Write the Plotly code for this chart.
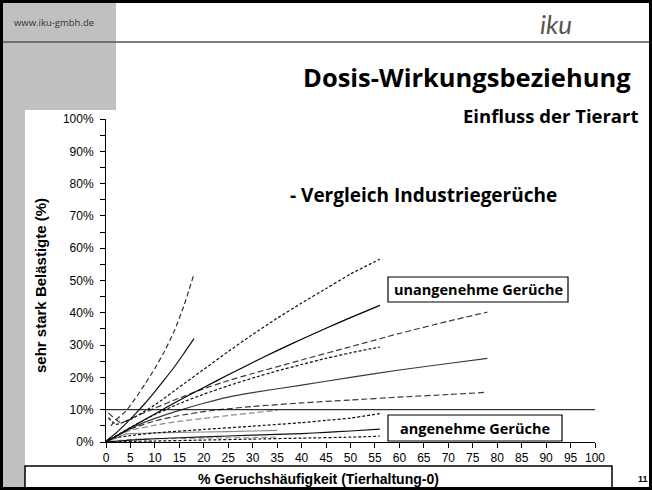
import plotly.graph_objects as go

# ---------------- data ----------------
xA = [0, 2, 4, 6, 8, 10, 12, 14, 16, 18]
A_solid = [0.3, 2.7, 5.6, 8.7, 12.0, 15.6, 19.4, 23.3, 27.6, 32.0]
xA_up = [1, 2, 4, 6, 8, 10, 12, 14, 16, 18]
A_upper = [5.0, 6.8, 9.5, 13.5, 18.0, 22.8, 28.2, 34.5, 42.5, 52.0]

xB = [0, 5, 10, 15, 20, 25, 30, 35, 40, 45, 50, 56]
B_solid = [0, 4.4, 8.7, 12.9, 16.9, 20.8, 24.6, 28.3, 31.8, 35.2, 38.5, 42.3]
B_lower = [0, 4.5, 8.5, 11.9, 14.8, 17.4, 19.8, 22.0, 24.0, 25.9, 27.6, 29.4]
xB_up = [0.5, 2, 5, 10, 15, 20, 25, 30, 35, 40, 45, 50, 56]
B_upper = [7.5, 5.5, 7.0, 11.5, 17.0, 22.5, 28.0, 33.3, 38.3, 43.0, 47.5, 52.0, 56.6]

xC = [0, 5, 10, 15, 20, 25, 30, 40, 50, 60, 70, 78]
C_solid = [0, 4.2, 7.3, 9.8, 12.0, 13.9, 15.3, 17.6, 20.0, 22.3, 24.3, 25.9]
C_lower = [0.3, 4.0, 6.5, 8.2, 9.4, 10.3, 11.0, 12.1, 13.0, 13.9, 14.7, 15.4]
xC_up = [0.5, 3, 5, 10, 15, 20, 25, 30, 40, 50, 60, 70, 78]
C_upper = [9.0, 6.0, 7.2, 10.5, 13.6, 16.5, 19.0, 21.2, 25.4, 29.5, 33.6, 37.4, 40.2]

xD = [0, 5, 10, 20, 30, 40, 45, 50, 56]
D_solid = [0, 0.6, 1.0, 1.6, 2.1, 2.6, 3.0, 3.4, 4.0]
xD_up = [0.5, 5, 10, 20, 30, 40, 45, 50, 56]
D_upper = [1.0, 2.0, 2.8, 3.9, 4.9, 6.0, 6.7, 7.4, 8.8]
xD_lo = [0.5, 10, 20, 30, 40, 50, 56]
D_lower = [0.1, 0.3, 0.6, 0.9, 1.2, 1.5, 1.8]

xE = [0.5, 2, 4, 5, 10, 20, 30, 35]
E_solid = [0.3, 1.2, 2.5, 2.6, 2.8, 3.1, 3.4, 3.6]
xE_up = [0.5, 3, 5, 10, 15, 20, 25, 30, 35]
E_upper = [0.5, 2.5, 3.6, 5.2, 6.4, 7.3, 8.2, 9.0, 9.8]
xE_lo = [0.5, 5, 10, 20, 30, 35]
E_lower = [0.1, 0.8, 1.0, 1.2, 1.4, 1.5]

x_ticks = list(range(0, 101, 5))
ref_level = 10

# ---------------- figure ----------------
W, H = 652, 490
L, R, T, B = 106, 57, 119, 48
PW, PH = W - L - R, H - T - B


def PX(px):
    return (px - L) / PW


def PY(py):
    return (H - B - py) / PH


fig = go.Figure()


def add(x, y, color, dash, width=1.2):
    fig.add_trace(go.Scatter(x=x, y=y, mode="lines",
                             line=dict(color=color, dash=dash, width=width, shape="spline", smoothing=0.6),
                             hoverinfo="skip", showlegend=False))


DOT = "3px,2px"
DASH = "6px,3px"
# group E (grey)
add(xE, E_solid, "#8a8a8a", "solid")
add(xE_up, E_upper, "#8a8a8a", DASH)
add(xE_lo, E_lower, "#9a9a9a", DASH)
# group D
add(xD, D_solid, "#111", "solid")
add(xD_up, D_upper, "#111", DOT)
add(xD_lo, D_lower, "#111", DOT)
# group C
add(xC, C_solid, "#3a3a3a", "solid")
add(xC_up, C_upper, "#3a3a3a", DASH)
add(xC, C_lower, "#3a3a3a", DASH)
# group B
add(xB, B_solid, "#000", "solid")
add(xB_up, B_upper, "#111", DOT)
add(xB, B_lower, "#111", DOT)
# group A
add(xA, A_solid, "#111", "solid")
add(xA_up, A_upper, "#333", "5px,3px")

shapes = []
# grey regions
shapes.append(dict(type="rect", xref="paper", yref="paper", x0=PX(3), x1=PX(116), y0=PY(110), y1=PY(3),
                   fillcolor="#c0c0c0", line=dict(width=0), layer="below"))
shapes.append(dict(type="rect", xref="paper", yref="paper", x0=PX(3), x1=PX(25), y0=PY(488), y1=PY(110),
                   fillcolor="#c0c0c0", line=dict(width=0), layer="below"))
# header line
shapes.append(dict(type="line", xref="paper", yref="paper", x0=PX(3), x1=PX(650), y0=PY(42), y1=PY(42),
                   line=dict(color="#555", width=1.5)))
# 10% reference line
shapes.append(dict(type="line", xref="x", yref="y", x0=0, x1=100, y0=ref_level, y1=ref_level,
                   line=dict(color="#000", width=1)))
# x-title box
shapes.append(dict(type="rect", xref="paper", yref="paper", x0=PX(25), x1=PX(612), y0=PY(488), y1=PY(466),
                   fillcolor="white", line=dict(color="#000", width=1.5)))
# label boxes
shapes.append(dict(type="rect", xref="paper", yref="paper", x0=PX(388), x1=PX(568), y0=PY(302), y1=PY(277),
                   fillcolor="white", line=dict(color="#000", width=1.2)))
shapes.append(dict(type="rect", xref="paper", yref="paper", x0=PX(388), x1=PX(562), y0=PY(441), y1=PY(415),
                   fillcolor="white", line=dict(color="#000", width=1.2)))
# outer frame
shapes.append(dict(type="rect", xref="paper", yref="paper", x0=PX(1.5), x1=PX(650.5), y0=PY(488.5), y1=PY(1.5),
                   line=dict(color="#000", width=3)))

SL = "'Open Sans', 'Noto Sans', sans-serif"
AR = "Liberation Sans, Arial, sans-serif"


def text(px, py, s, size, font=SL, anchor="center", color="#000", angle=0):
    return dict(xref="paper", yref="paper", x=PX(px), y=PY(py), text=s, showarrow=False,
                xanchor=anchor, yanchor="middle", textangle=angle,
                font=dict(family=font, size=size, color=color))


annotations = [
    text(12, 22, "www.iku-gmbh.de", 9.5, anchor="left", color="#333"),
    text(556, 24, "<i>iku</i>", 26, font="Lato, sans-serif", color="#555"),
    text(633, 77, "<b>Dosis-Wirkungsbeziehung</b>", 25.5, anchor="right"),
    text(640, 116, "<b>Einfluss der Tierart</b>", 18.5, anchor="right"),
    text(288, 195, "<b>- Vergleich Industriegerüche</b>", 19, anchor="left"),
    text(478, 289.5, "<b>unangenehme Gerüche</b>", 14.5),
    text(475, 428, "<b>angenehme Gerüche</b>", 14.5),
    text(318, 479, "<b>% Geruchshäufigkeit (Tierhaltung-0)</b>", 14, font=AR),
    text(643, 479, "<b>11</b>", 9, font=AR),
    text(40, 286, "<b>sehr stark Belästigte (%)</b>", 15, font=AR, angle=-90),
]

fig.update_layout(
    width=W, height=H, margin=dict(l=L, r=R, t=T, b=B),
    paper_bgcolor="white", plot_bgcolor="white", showlegend=False,
    shapes=shapes, annotations=annotations,
    xaxis=dict(range=[0, 100], tickvals=x_ticks, ticks="outside", ticklen=5, tickcolor="#000",
               showline=True, linecolor="#000", linewidth=1, showgrid=False, zeroline=False,
               tickfont=dict(family=AR, size=12, color="#000")),
    yaxis=dict(range=[0, 100], dtick=10, ticksuffix="%", ticks="outside", ticklen=5, tickcolor="#000",
               minor=dict(dtick=5, ticks="outside", ticklen=5, tickcolor="#000"),
               showline=True, linecolor="#000", linewidth=1, showgrid=False, zeroline=False,
               ticklabelstandoff=4,
               tickfont=dict(family=AR, size=12, color="#000")),
)

fig.write_html("out.html", config={"displayModeBar": False},
               post_script="document.body.style.margin='0';document.body.style.overflow='hidden';")
